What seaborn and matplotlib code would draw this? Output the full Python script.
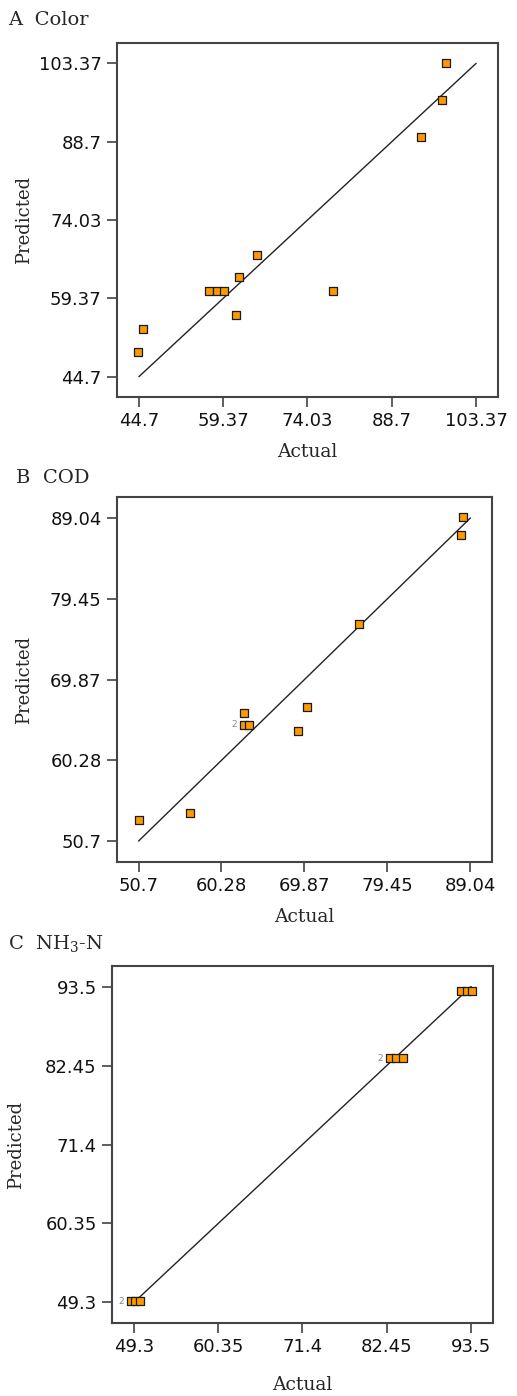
import matplotlib
matplotlib.use("Agg")
import matplotlib.pyplot as plt
import seaborn as sns
import pandas as pd

# panel A - Color
color_actual = [44.5, 45.4, 56.9, 58.3, 59.5, 61.6, 62.2, 65.3, 78.4, 93.8, 97.4, 98.1]
color_pred = [49.3, 53.7, 60.7, 60.7, 60.7, 56.2, 63.3, 67.5, 60.7, 89.55, 96.5, 103.4]
color_ticks = [44.7, 59.37, 74.03, 88.7, 103.37]
color_labels = ["44.7", "59.37", "74.03", "88.7", "103.37"]

# panel B - COD
cod_actual = [50.7, 56.7, 62.9, 62.9, 63.5, 69.07, 70.15, 76.2, 87.9, 88.2]
cod_pred = [53.2, 54.0, 65.9, 64.5, 64.5, 63.7, 66.6, 76.5, 87.0, 89.1]
cod_ticks = [50.7, 60.28, 69.87, 79.45, 89.04]
cod_labels = ["50.7", "60.28", "69.87", "79.45", "89.04"]

# panel C - NH3-N
nh3_actual = [48.9, 49.4, 50.05, 82.9, 83.7, 84.6, 92.2, 93.0, 93.65]
nh3_pred = [49.5, 49.5, 49.5, 83.5, 83.5, 83.5, 92.9, 92.9, 92.9]
nh3_ticks = [49.3, 60.35, 71.4, 82.45, 93.5]
nh3_labels = ["49.3", "60.35", "71.4", "82.45", "93.5"]

# points marked "2" (duplicate runs)
cod_dup = [(62.9, 64.5)]
nh3_dup = [(48.9, 49.5), (82.9, 83.5)]

sns.set_style("ticks")
plt.rcParams["font.family"] = ["DejaVu Sans"]
plt.rcParams["mathtext.fontset"] = "dejavuserif"

fig = plt.figure(figsize=(5.17, 13.96), dpi=100)

panels = [
    ("A  Color", color_actual, color_pred, color_ticks, color_labels, [],
     [0.2263, 0.7156, 0.737, 0.2536], (8, 20), -0.2205, 9),
    ("B  COD", cod_actual, cod_pred, cod_ticks, cod_labels, cod_dup,
     [0.2263, 0.3825, 0.7253, 0.2615], (16, 478), -0.224, 9),
    ("C  NH$_3$-N", nh3_actual, nh3_pred, nh3_ticks, nh3_labels, nh3_dup,
     [0.2166, 0.0523, 0.737, 0.2557], (8, 943), -0.228, 14),
]

for title, act, pred, ticks, labels, dups, rect, tpos, ylx, xpad in panels:
    ax = fig.add_axes(rect)
    df = pd.DataFrame({"Actual": act, "Predicted": pred})
    line = pd.DataFrame({"Actual": [ticks[0], ticks[-1]], "Predicted": [ticks[0], ticks[-1]]})
    sns.lineplot(data=line, x="Actual", y="Predicted", color="#222222", linewidth=1.0, ax=ax)
    sns.scatterplot(data=df, x="Actual", y="Predicted", marker="s", s=30,
                    color="#FF9900", edgecolor="#1a1a1a", linewidth=0.9, ax=ax, zorder=3)
    for x, y in dups:
        ax.annotate("2", xy=(x, y), xytext=(-7, 0), textcoords="offset points",
                    ha="center", va="center", fontsize=6.5, color="#888888")
    span = ticks[-1] - ticks[0]
    pad = span * 0.065
    ax.set_xlim(ticks[0] - pad, ticks[-1] + pad)
    ax.set_ylim(ticks[0] - pad, ticks[-1] + pad)
    ax.set_xticks(ticks)
    ax.set_xticklabels(labels)
    ax.set_yticks(ticks)
    ax.set_yticklabels(labels)
    ax.tick_params(direction="out", length=7, width=1.1, color="#333333",
                   labelsize=13, pad=4, labelcolor="#111111")
    for sp in ax.spines.values():
        sp.set_visible(True)
        sp.set_color("#444444")
        sp.set_linewidth(1.5)
    ax.set_xlabel("Actual", family="DejaVu Serif", fontsize=13.5, labelpad=xpad)
    ax.set_ylabel("Predicted", family="DejaVu Serif", fontsize=13)
    ax.yaxis.set_label_coords(ylx, 0.5)
    fig.text(tpos[0] / 517, 1 - tpos[1] / 1396, title, family="DejaVu Serif",
             fontsize=14, ha="left", va="center")

fig.savefig("out.png", dpi=100)
